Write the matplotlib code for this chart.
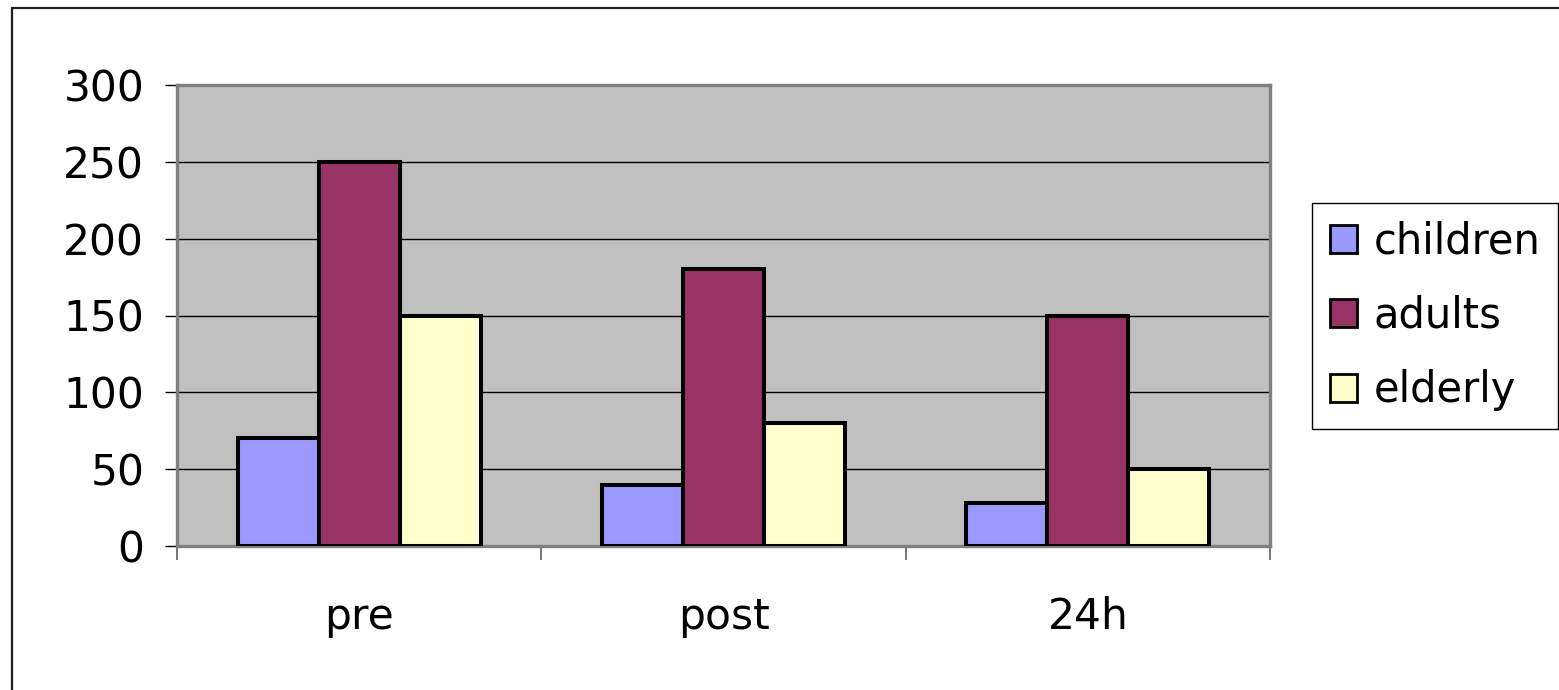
import numpy as np
import matplotlib
matplotlib.use("Agg")
import matplotlib.pyplot as plt
from matplotlib.patches import Rectangle

plt.rcParams['font.family'] = ['DejaVu Sans']

categories = ['pre', 'post', '24h']
groups = ['children', 'adults', 'elderly']
children = [70, 40, 28]
adults = [250, 180, 150]
elderly = [150, 80, 50]
colors = ['#9999FF', '#993366', '#FFFFCC']
yticks = [0, 50, 100, 150, 200, 250, 300]

W, H = 1559, 690
fig = plt.figure(figsize=(W / 100, H / 100), dpi=100)

# chart border, running off the right and bottom edges
fig.patches.append(Rectangle((12 / W, -0.2), 1.2, 0.2 + 1 - 8 / H,
                             transform=fig.transFigure, fill=False,
                             edgecolor='#202020', linewidth=1.6, zorder=0))

ax = fig.add_axes([177 / W, 1 - 546 / H, (1270 - 177) / W, (546 - 85) / H])
ax.set_facecolor('#C0C0C0')

x = np.arange(len(categories))
bw = 1 / 4.5
for i, (vals, c) in enumerate(zip([children, adults, elderly], colors)):
    ax.bar(x + (i - 1) * bw, vals, width=bw, color=c, edgecolor='black',
           linewidth=2.9, zorder=3, label=groups[i])

ax.set_xlim(-0.5, 2.5)
ax.set_ylim(0, 300)
ax.set_yticks(yticks)
ax.yaxis.grid(True, color='black', linewidth=1.0, zorder=1)
ax.set_axisbelow(True)

for s in ax.spines.values():
    s.set_color('#808080')
    s.set_linewidth(2.4)

ax.tick_params(axis='y', labelsize=30.5, length=8.5, width=1, color='black', pad=15)
ax.set_xticks(x)
ax.set_xticklabels(categories)
ax.tick_params(axis='x', which='major', labelsize=30.5, length=0, pad=36)
ax.set_xticks([-0.5, 0.5, 1.5, 2.5], minor=True)
ax.tick_params(axis='x', which='minor', length=10, width=1.2, color='#606060')

leg = fig.legend(loc='upper left', bbox_to_anchor=(1312 / W, 1 - 203 / H),
                 fontsize=30, frameon=True, fancybox=False, framealpha=1,
                 edgecolor='black', handlelength=0.66, handleheight=0.66,
                 handletextpad=0.4, labelspacing=0.78, borderpad=0.42,
                 borderaxespad=0)
leg.get_frame().set_linewidth(1.0)
for p in leg.get_patches():
    p.set_linewidth(2.0)

fig.savefig('out.png', dpi=100)
